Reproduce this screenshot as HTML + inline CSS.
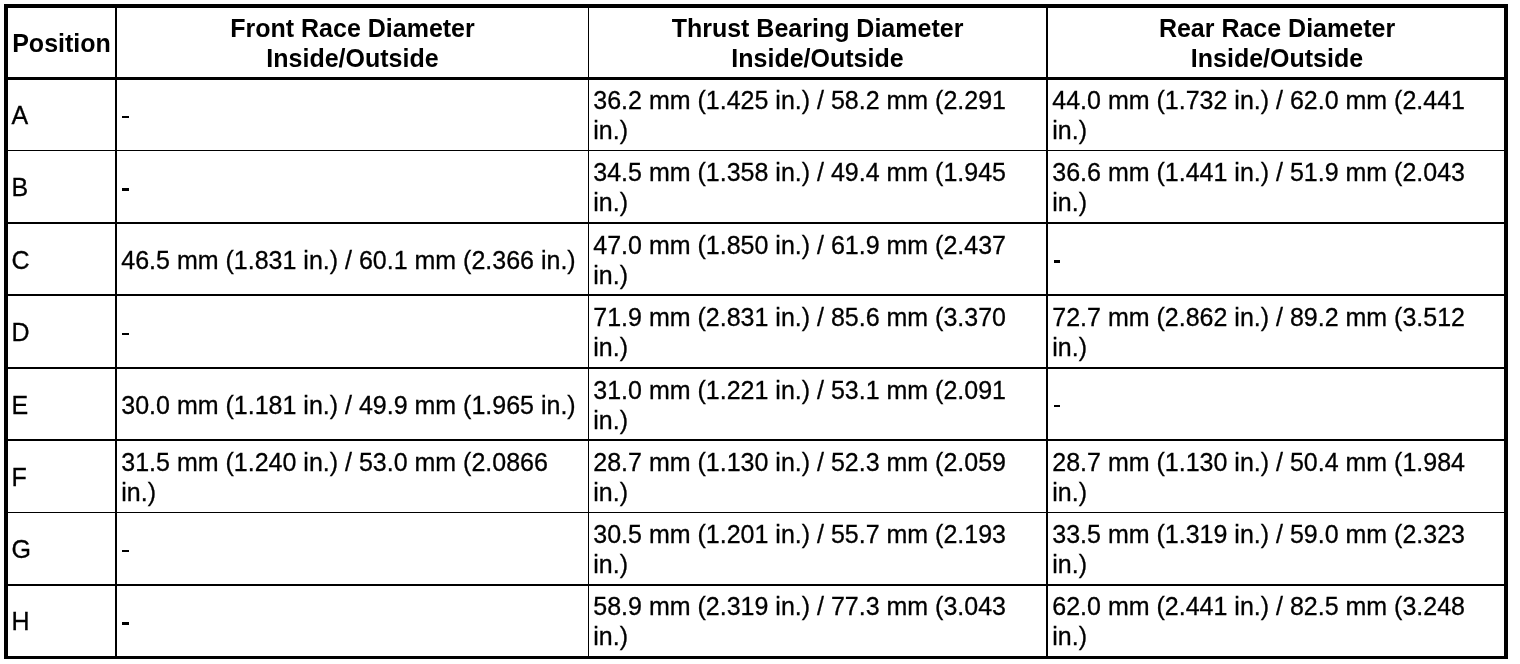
<!DOCTYPE html>
<html><head><meta charset="utf-8"><title>Bearing and Race Diameters</title>
<style>

html,body{margin:0;padding:0;background:#fff;}
body{width:1520px;height:664px;position:relative;overflow:hidden;font-family:"Liberation Sans",sans-serif;color:#000;}
#w{position:absolute;left:0;top:0;width:1520px;height:664px;will-change:transform;}
.l{position:absolute;background:#000;}
.t{position:absolute;white-space:nowrap;-webkit-text-stroke:0.3px #000;font-size:25px;line-height:30px;}
.h{position:absolute;white-space:nowrap;font-size:25px;line-height:30px;font-weight:bold;text-align:center;}

</style></head><body><div id="w">
<div class="l" style="left:4px;top:4px;width:1504px;height:4px"></div>
<div class="l" style="left:4px;top:77px;width:1504px;height:3px"></div>
<div class="l" style="left:4px;top:150px;width:1504px;height:1px"></div>
<div class="l" style="left:4px;top:222px;width:1504px;height:2px"></div>
<div class="l" style="left:4px;top:294px;width:1504px;height:2px"></div>
<div class="l" style="left:4px;top:367px;width:1504px;height:2px"></div>
<div class="l" style="left:4px;top:439px;width:1504px;height:2px"></div>
<div class="l" style="left:4px;top:512px;width:1504px;height:1px"></div>
<div class="l" style="left:4px;top:584px;width:1504px;height:2px"></div>
<div class="l" style="left:4px;top:656px;width:1504px;height:3px"></div>
<div class="l" style="left:4px;top:4px;width:4px;height:655px"></div>
<div class="l" style="left:115px;top:4px;width:2px;height:655px"></div>
<div class="l" style="left:588px;top:4px;width:1px;height:655px"></div>
<div class="l" style="left:1046px;top:4px;width:2px;height:655px"></div>
<div class="l" style="left:1504px;top:4px;width:4px;height:655px"></div>
<div class="h" style="left:8px;width:107px;top:28px">Position</div>
<div class="h" style="left:117px;width:471px;top:13px">Front Race Diameter<br>Inside/Outside</div>
<div class="h" style="left:589px;width:457px;top:13px">Thrust Bearing Diameter<br>Inside/Outside</div>
<div class="h" style="left:1050px;width:454px;top:13px">Rear Race Diameter<br>Inside/Outside</div>
<div class="t" style="left:11.5px;top:100px">A</div>
<div class="t" style="left:593.3px;top:85px">36.2 mm (1.425 in.) / 58.2 mm (2.291<br>in.)</div>
<div class="t" style="left:1052.3px;top:85px">44.0 mm (1.732 in.) / 62.0 mm (2.441<br>in.)</div>
<div class="t" style="left:11.5px;top:172px">B</div>
<div class="t" style="left:593.3px;top:157px">34.5 mm (1.358 in.) / 49.4 mm (1.945<br>in.)</div>
<div class="t" style="left:1052.3px;top:157px">36.6 mm (1.441 in.) / 51.9 mm (2.043<br>in.)</div>
<div class="t" style="left:11.5px;top:245px">C</div>
<div class="t" style="left:121.3px;top:245px">46.5 mm (1.831 in.) / 60.1 mm (2.366 in.)</div>
<div class="t" style="left:593.3px;top:230px">47.0 mm (1.850 in.) / 61.9 mm (2.437<br>in.)</div>
<div class="t" style="left:11.5px;top:317px">D</div>
<div class="t" style="left:593.3px;top:302px">71.9 mm (2.831 in.) / 85.6 mm (3.370<br>in.)</div>
<div class="t" style="left:1052.3px;top:302px">72.7 mm (2.862 in.) / 89.2 mm (3.512<br>in.)</div>
<div class="t" style="left:11.5px;top:390px">E</div>
<div class="t" style="left:121.3px;top:390px">30.0 mm (1.181 in.) / 49.9 mm (1.965 in.)</div>
<div class="t" style="left:593.3px;top:375px">31.0 mm (1.221 in.) / 53.1 mm (2.091<br>in.)</div>
<div class="t" style="left:11.5px;top:462px">F</div>
<div class="t" style="left:121.3px;top:447px">31.5 mm (1.240 in.) / 53.0 mm (2.0866<br>in.)</div>
<div class="t" style="left:593.3px;top:447px">28.7 mm (1.130 in.) / 52.3 mm (2.059<br>in.)</div>
<div class="t" style="left:1052.3px;top:447px">28.7 mm (1.130 in.) / 50.4 mm (1.984<br>in.)</div>
<div class="t" style="left:11.5px;top:534px">G</div>
<div class="t" style="left:593.3px;top:519px">30.5 mm (1.201 in.) / 55.7 mm (2.193<br>in.)</div>
<div class="t" style="left:1052.3px;top:519px">33.5 mm (1.319 in.) / 59.0 mm (2.323<br>in.)</div>
<div class="t" style="left:11.5px;top:606px">H</div>
<div class="t" style="left:593.3px;top:591px">58.9 mm (2.319 in.) / 77.3 mm (3.043<br>in.)</div>
<div class="t" style="left:1052.3px;top:591px">62.0 mm (2.441 in.) / 82.5 mm (3.248<br>in.)</div>
<div class="l" style="left:122px;top:116px;width:7px;height:2px"></div>
<div class="l" style="left:122px;top:188px;width:7px;height:3px"></div>
<div class="l" style="left:122px;top:333px;width:7px;height:2px"></div>
<div class="l" style="left:122px;top:550px;width:7px;height:2px"></div>
<div class="l" style="left:122px;top:622px;width:7px;height:3px"></div>
<div class="l" style="left:1054px;top:260px;width:6px;height:3px"></div>
<div class="l" style="left:1054px;top:405px;width:6px;height:2px"></div>
</div>
</body></html>
